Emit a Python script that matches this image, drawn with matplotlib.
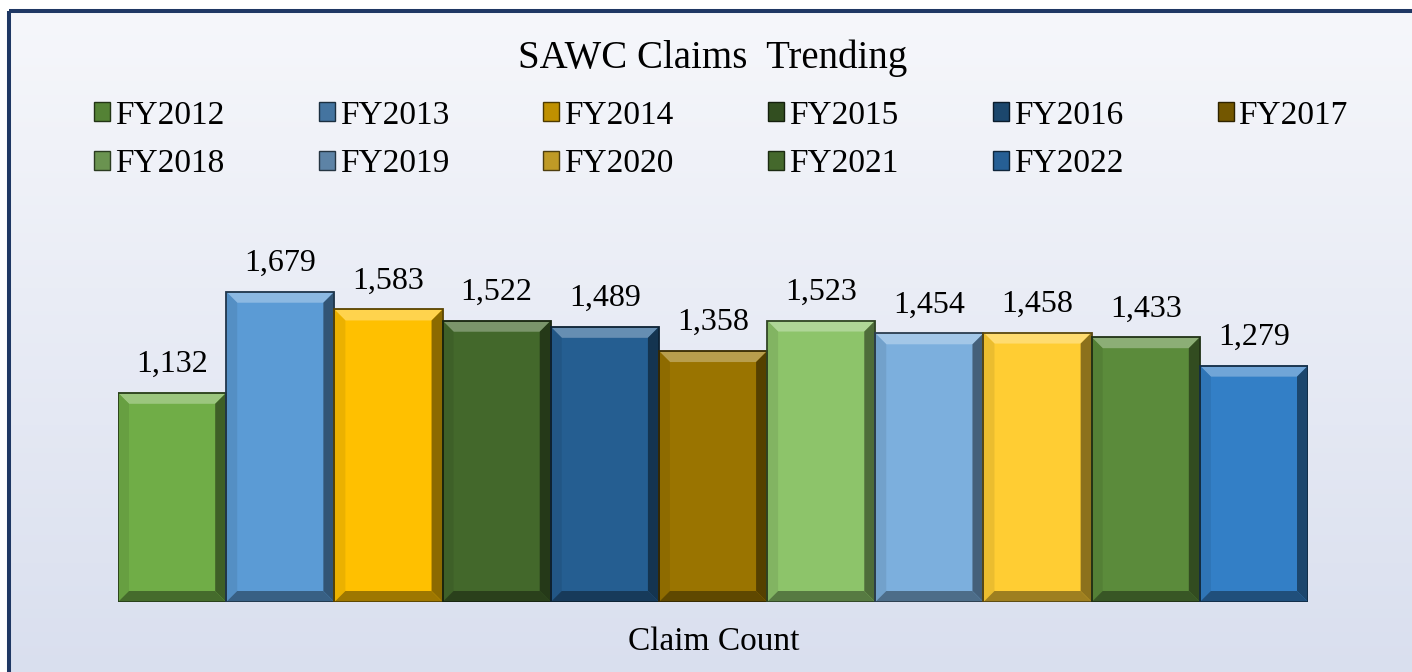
import numpy as np
import matplotlib
matplotlib.use("Agg")
import matplotlib.pyplot as plt
import matplotlib.colors as mcolors
from matplotlib.patches import Polygon, Rectangle, Patch

plt.rcParams['font.family'] = ['Liberation Serif', 'DejaVu Serif']

# data
years = ['FY2012', 'FY2013', 'FY2014', 'FY2015', 'FY2016', 'FY2017',
         'FY2018', 'FY2019', 'FY2020', 'FY2021', 'FY2022']
claims = [1132, 1679, 1583, 1522, 1489, 1358, 1523, 1454, 1458, 1433, 1279]
bar_colors = ['#70ad47', '#5b9bd5', '#ffc000', '#43682b', '#255e91', '#9a7400',
              '#8dc46a', '#7cafdd', '#ffcd33', '#5b8b3b', '#337fc6']

W, H = 1412, 672
fig = plt.figure(figsize=(W / 100, H / 100), dpi=100)
fig.patch.set_facecolor('white')


def mix(c, other, t):
    a = np.array(mcolors.to_rgb(c))
    b = np.array(mcolors.to_rgb(other))
    return tuple(a * (1 - t) + b * t)


# background panel with gradient and navy frame
bg = fig.add_axes([0, 0, 1, 1], zorder=-5)
bg.set_xlim(0, W)
bg.set_ylim(H, 0)
bg.axis('off')
grad_cmap = mcolors.LinearSegmentedColormap.from_list('bg', ['#f6f7fb', '#d8deee'])
bg.imshow(np.linspace(0, 1, 256)[:, None], extent=(9, W + 30, H + 30, 11),
          aspect='auto', cmap=grad_cmap, interpolation='bilinear')
bg.add_patch(Rectangle((9, 11), W + 60, H + 60, fill=False,
                       edgecolor='#1f3864', linewidth=2.9))

# main axes
ymax = 2000
px_per_unit = 0.1848
ax_h = ymax * px_per_unit
ax = fig.add_axes([118 / W, 70 / H, 1190 / W, ax_h / H])
ax.set_facecolor('none')
x = np.arange(len(years))
bars = ax.bar(x, claims, width=1.0, color=bar_colors, zorder=2)
ax.set_xlim(-0.5, len(years) - 0.5)
ax.set_ylim(0, ymax)
ax.axis('off')

# bevel effect on each bar
bev = 11
bx = bev / (1190 / len(years))
by = bev / px_per_unit
for p, c in zip(bars, bar_colors):
    x0, y0 = p.get_x(), p.get_y()
    x1, y1 = x0 + p.get_width(), y0 + p.get_height()
    faces = [
        ([(x0, y1), (x1, y1), (x1 - bx, y1 - by), (x0 + bx, y1 - by)], mix(c, 'white', 0.3)),
        ([(x0, y0), (x0, y1), (x0 + bx, y1 - by), (x0 + bx, y0 + by)], mix(c, 'black', 0.08)),
        ([(x1, y0), (x1, y1), (x1 - bx, y1 - by), (x1 - bx, y0 + by)], mix(c, 'black', 0.45)),
        ([(x0, y0), (x1, y0), (x1 - bx, y0 + by), (x0 + bx, y0 + by)], mix(c, 'black', 0.38)),
    ]
    for pts, fc in faces:
        ax.add_patch(Polygon(pts, closed=True, facecolor=fc, edgecolor='none', zorder=3))
    ax.add_patch(Rectangle((x0, y0), x1 - x0, y1 - y0, fill=False,
                           edgecolor=mix(c, 'black', 0.65), linewidth=1.3, zorder=4))
    ax.annotate(f'{int(p.get_height()):,}', (x0 + (x1 - x0) / 2, y1),
                xytext=(0, 15), textcoords='offset points',
                ha='center', va='baseline', fontsize=23, color='black')

# title and axis label
fig.text(713 / W, 1 - 68 / H, 'SAWC Claims  Trending', ha='center', va='baseline',
         fontsize=28, color='black')
fig.text(714 / W, 1 - 650 / H, 'Claim Count', ha='center', va='baseline',
         fontsize=24, color='black')

# legend, filled row by row
order = [0, 6, 1, 7, 2, 8, 3, 9, 4, 10, 5]
handles = [Patch(facecolor=mix(bar_colors[i], 'black', 0.25),
                 edgecolor=mix(bar_colors[i], 'black', 0.7), linewidth=1.0)
           for i in order]
labels = [years[i] for i in order]
fig.legend(handles, labels, ncol=6, loc='upper left',
           bbox_to_anchor=(94 / W, 1 - 100 / H), frameon=False, fontsize=24,
           handlelength=0.48, handleheight=0.48, handletextpad=0.15,
           columnspacing=2.83, labelspacing=0.55, borderpad=0, borderaxespad=0)

fig.savefig('out.png', dpi=100)
